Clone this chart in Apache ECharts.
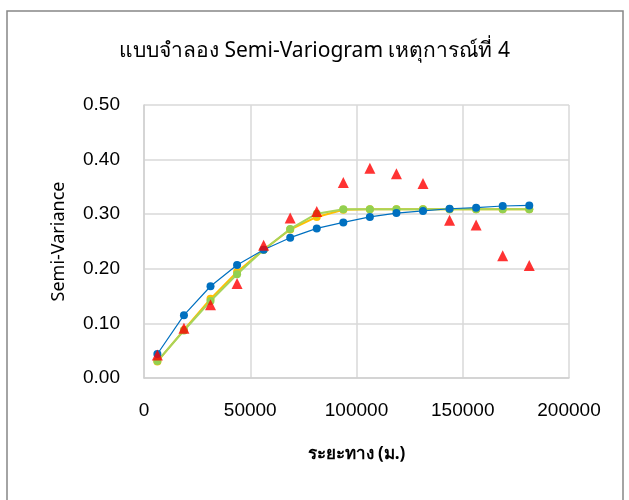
<!DOCTYPE html>
<html>
<head>
<meta charset="utf-8">
<script src="https://cdn.jsdelivr.net/npm/echarts@6/dist/echarts.min.js"></script>
<style>
    html, body { margin: 0; padding: 0; background: #fff; }
    #main { width: 629px; height: 500px; }
</style>
</head>
<body>
<div id="main"></div>
<script>
// ระยะทาง (lag distance)
var lags = [6300, 18800, 31300, 43800, 56300, 68800, 81300, 93800, 106300, 118800, 131300, 143800, 156300, 168800, 181300];
// experimental semi-variance
var observed = [0.042, 0.091, 0.134, 0.173, 0.243, 0.293, 0.305, 0.358, 0.384, 0.374, 0.356, 0.289, 0.280, 0.224, 0.206];
// model curves
var modelBlue = [0.044, 0.115, 0.168, 0.207, 0.235, 0.257, 0.274, 0.285, 0.295, 0.302, 0.306, 0.310, 0.312, 0.315, 0.316];
var modelYellow = [0.030, 0.088, 0.145, 0.194, 0.235, 0.272, 0.295, 0.308, 0.309, 0.309, 0.309, 0.309, 0.309, 0.309, 0.309];
var modelGreen = [0.031, 0.087, 0.141, 0.190, 0.235, 0.273, 0.301, 0.309, 0.309, 0.309, 0.309, 0.309, 0.309, 0.309, 0.309];
var yTicks = [0, 0.1, 0.2, 0.3, 0.4, 0.5];
var xTicks = [0, 50000, 100000, 150000, 200000];

function pairs(vals) {
    var out = [];
    for (var i = 0; i < lags.length; i++) {
        out.push([lags[i], vals[i]]);
    }
    return out;
}

var myChart = echarts.init(document.getElementById('main'));

var option = {
    animation: false,
    backgroundColor: '#fff',
    textStyle: { fontFamily: 'Noto Sans, sans-serif' },
    graphic: [{
        type: 'rect',
        shape: { x: 7, y: 11, width: 616, height: 500 },
        style: { fill: 'none', stroke: '#868686', lineWidth: 1.5 }
    }],
    title: {
        text: 'แบบจำลอง Semi-Variogram เหตุการณ์ที่ 4',
        left: 'center',
        top: 36,
        textStyle: { fontSize: 21, fontWeight: 'normal', color: '#000' }
    },
    grid: { left: 144, right: 60, top: 105, bottom: 122 },
    xAxis: {
        type: 'value',
        min: xTicks[0],
        max: xTicks[xTicks.length - 1],
        interval: 50000,
        name: 'ระยะทาง (ม.)',
        nameLocation: 'middle',
        nameGap: 68,
        nameTextStyle: { fontSize: 17, fontWeight: 'bold', color: '#000' },
        axisLine: { show: true, lineStyle: { color: '#d0d0d0', width: 1.5 } },
        axisTick: { show: false },
        axisLabel: {
            fontSize: 19, color: '#000', margin: 23,
            fontFamily: 'Liberation Sans, sans-serif',
            formatter: function (v) { return String(v); }
        },
        splitLine: { show: true, lineStyle: { color: '#d9d9d9', width: 1.5 } }
    },
    yAxis: {
        type: 'value',
        min: yTicks[0],
        max: yTicks[yTicks.length - 1],
        interval: 0.1,
        name: 'Semi-Variance',
        nameLocation: 'middle',
        nameGap: 76,
        nameTextStyle: { fontSize: 18, color: '#000' },
        axisLine: { show: true, lineStyle: { color: '#d0d0d0', width: 1.5 } },
        axisTick: { show: false },
        axisLabel: {
            fontSize: 19, color: '#000', margin: 24,
            fontFamily: 'Liberation Sans, sans-serif',
            formatter: function (v) { return v.toFixed(2); }
        },
        splitLine: { show: true, lineStyle: { color: '#d9d9d9', width: 1.5 } }
    },
    series: [
        {
            type: 'line',
            name: 'yellow',
            data: pairs(modelYellow),
            symbol: 'circle',
            symbolSize: 8,
            itemStyle: { color: '#FFC000' },
            lineStyle: { color: '#FFC000', width: 2 },
            z: 2
        },
        {
            type: 'line',
            name: 'green',
            data: pairs(modelGreen),
            symbol: 'circle',
            symbolSize: 8,
            itemStyle: { color: '#92D050' },
            lineStyle: { color: '#A8D45A', width: 2 },
            z: 3
        },
        {
            type: 'line',
            name: 'blue',
            data: pairs(modelBlue),
            symbol: 'circle',
            symbolSize: 8,
            itemStyle: { color: '#0070C0' },
            lineStyle: { color: '#0070C0', width: 1.2 },
            z: 4
        },
        {
            type: 'scatter',
            name: 'observed',
            data: pairs(observed),
            symbol: 'triangle',
            symbolSize: 11,
            itemStyle: { color: '#FF0000' },
            z: 5
        }
    ]
};
myChart.setOption(option);
</script>
</body>
</html>
